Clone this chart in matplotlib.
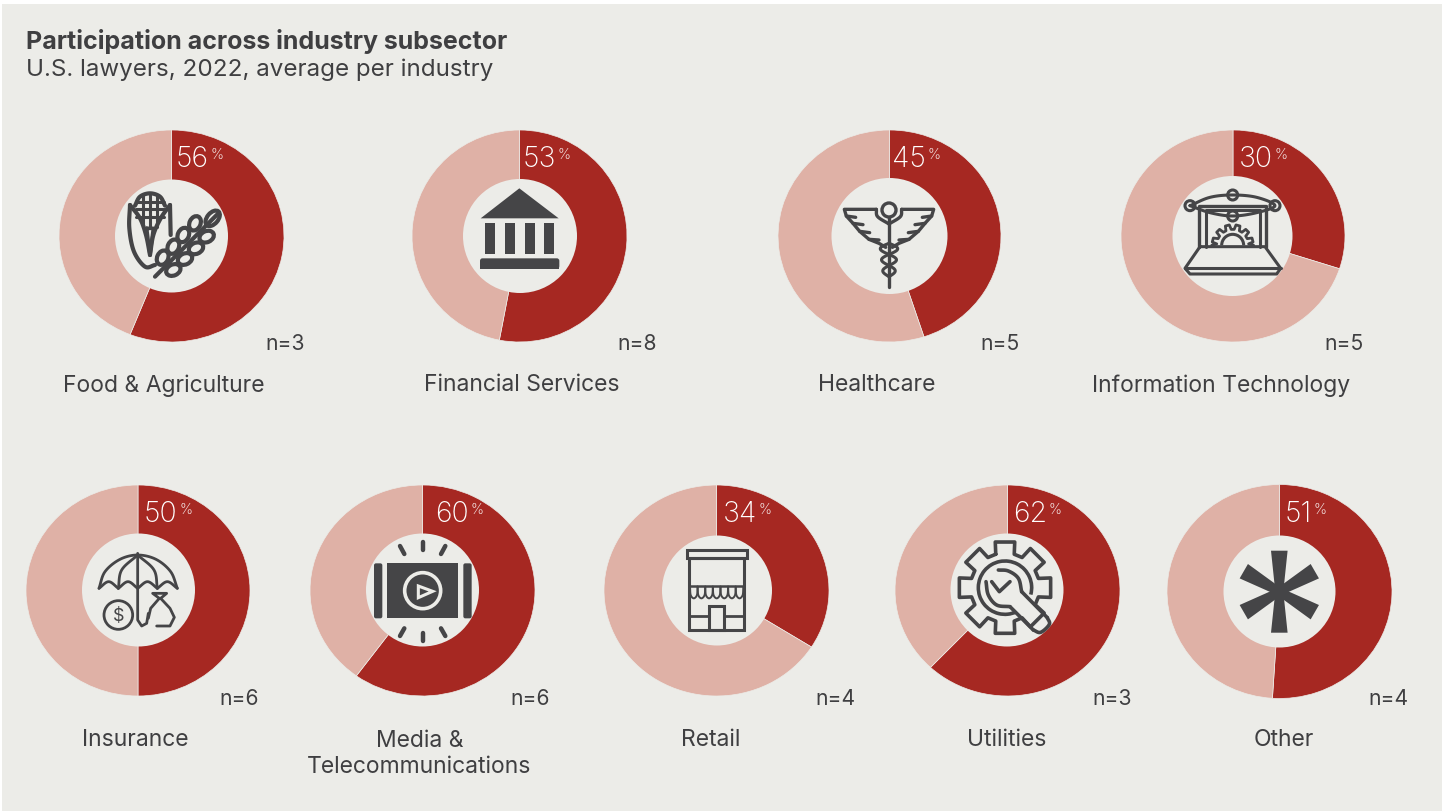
#!/usr/bin/env python3
"""
Donut charts: participation across industry subsector
"""

import numpy as np
import matplotlib
matplotlib.use('Agg')
import matplotlib.pyplot as plt
from matplotlib.patches import Circle, Ellipse, Polygon, Rectangle, FancyBboxPatch, Arc

plt.rcParams['font.family'] = ['Inter', 'DejaVu Sans']

# Data
title = 'Participation across industry subsector'
subtitle = 'U.S. lawyers, 2022, average per industry'
categories = ['Food & Agriculture', 'Financial Services', 'Healthcare', 'Information Technology',
              'Insurance', 'Media &\nTelecommunications', 'Retail', 'Utilities', 'Other']
participation = [56, 53, 45, 30, 50, 60, 34, 62, 51]
sample_sizes = [3, 8, 5, 5, 6, 6, 4, 3, 4]

# Layout in pixels of the 1448x812 picture
W, H = 1448, 812
SHIFT = 1  # everything sits one pixel lower than the raw readings
centers_x = [171.5, 519.5, 889.5, 1233, 138, 422.5, 716.5, 1007.5, 1279.5]
half_w = [112.5, 107.5, 111.5, 112, 112, 112.5, 112.5, 112.5, 112.5]
rows_y = [236, 236, 236, 236, 590.5, 590.5, 590.5, 590.5, 591.5]
half_h = [106, 106, 106, 106, 105.5, 105.5, 105.5, 105.5, 107]
holes = [(171.5, 236, 56.5), (520, 236, 57), (889.5, 236, 58), (1232.5, 236, 60),
         (138.5, 590, 56.5), (422.5, 590, 56.5), (717, 590.5, 55), (1007, 590, 56.5),
         (1279.5, 591.5, 56)]
pct_x = [176, 523, 892, 1239, 144, 435, 723, 1013, 1285]
n_x = [265.5, 617.5, 980.5, 1324.5, 219.5, 510.5, 815.5, 1092.5, 1368.5]
label_x = [164, 522, 877, 1221, 135, 419.5, 711, 1007, 1284]

PANEL = '#ECECE8'
RED = '#A62822'
PINK = '#DFB1A6'
TEXT = '#3F3F41'
ICON = '#454547'

fig = plt.figure(figsize=(W / 100, H / 100), dpi=100, facecolor='white')
bg = fig.add_axes([0, 0, 1, 1], zorder=0)
bg.set_xlim(0, W)
bg.set_ylim(H - SHIFT, -SHIFT)
bg.axis('off')
bg.add_patch(Rectangle((2, 4), 1440, 812, fc=PANEL, ec='none'))

# Donuts, slightly wider than tall as in the original
for i, pct in enumerate(participation):
    x0 = (centers_x[i] - half_w[i]) / W
    y0 = 1 - (rows_y[i] + SHIFT + half_h[i]) / H
    ax = fig.add_axes([x0, y0, 2 * half_w[i] / W, 2 * half_h[i] / H], zorder=1)
    ax.pie([pct, 100 - pct], colors=[RED, PINK], startangle=90, counterclock=False, radius=1,
           wedgeprops={'edgecolor': PANEL, 'linewidth': 0.5})
    ax.set_aspect('auto')
    ax.set_xlim(-1, 1)
    ax.set_ylim(-1, 1)

top = fig.add_axes([0, 0, 1, 1], zorder=2)
top.set_xlim(0, W)
top.set_ylim(H - SHIFT, -SHIFT)
top.axis('off')
top.patch.set_alpha(0)

for hx, hy, hr in holes:
    top.add_patch(Circle((hx, hy), hr, fc=PANEL, ec='none'))


def smooth(pts, n=10):
    """Catmull-Rom through the points"""
    p = np.array(pts, dtype=float)
    p = np.vstack([2 * p[0] - p[1], p, 2 * p[-1] - p[-2]])
    out = []
    for k in range(1, len(p) - 2):
        for t in np.linspace(0, 1, n, endpoint=False):
            out.append(0.5 * (2 * p[k] + (p[k + 1] - p[k - 1]) * t
                              + (2 * p[k - 1] - 5 * p[k] + 4 * p[k + 1] - p[k + 2]) * t ** 2
                              + (3 * p[k] - p[k - 1] - 3 * p[k + 1] + p[k + 2]) * t ** 3))
    out.append(p[-2])
    return np.array(out)


def line(pts, ox, oy, lw=2.0, curve=False, color=ICON):
    """Stroke given in 3x zoom coordinates around origin ox, oy"""
    p = np.array(pts, dtype=float) / 3 + [ox, oy]
    if curve:
        p = smooth(p)
    top.plot(p[:, 0], p[:, 1], color=color, lw=lw, solid_capstyle='round', solid_joinstyle='round')


def ring(x, y, r, ox, oy, lw=2.0, fc=PANEL, ec=ICON):
    top.add_patch(Circle((ox + x / 3, oy + y / 3), r / 3, fc=fc, ec=ec, lw=lw))


def box(x0, y0, x1, y1, ox, oy, fc=ICON, ec='none', lw=0, rad=0.0):
    if rad:
        top.add_patch(FancyBboxPatch((ox + x0 / 3 + rad, oy + y0 / 3 + rad), (x1 - x0) / 3 - 2 * rad,
                                     (y1 - y0) / 3 - 2 * rad, boxstyle=f'round,pad={rad}',
                                     fc=fc, ec=ec, lw=lw))
    else:
        top.add_patch(Rectangle((ox + x0 / 3, oy + y0 / 3), (x1 - x0) / 3, (y1 - y0) / 3, fc=fc, ec=ec, lw=lw))


def icon_food():
    ox, oy = 120, 185
    # cob
    line([(45, 62), (60, 35), (90, 25), (120, 35), (135, 62)], ox, oy, lw=3, curve=True)
    for x in (70, 90, 110):
        line([(x, 30), (x, 125)], ox, oy, lw=2.2)
    for y in (50, 72, 95):
        line([(48, y), (132, y)], ox, oy, lw=2.2)
    # husks
    line([(30, 60), (60, 100), (78, 150), (90, 210)], ox, oy, lw=3, curve=True)
    line([(150, 60), (122, 100), (100, 150), (90, 210)], ox, oy, lw=3, curve=True)
    line([(80, 130), (90, 210), (100, 130), (80, 130)], ox, oy, lw=2.6)
    line([(30, 60), (28, 130), (42, 200), (75, 245), (105, 240)], ox, oy, lw=3, curve=True)
    line([(150, 60), (152, 150)], ox, oy, lw=3)
    # wheat
    line([(105, 275), (295, 85)], ox, oy, lw=3)
    for x, y, a, w, h in [(128, 218, 65, 15, 11), (160, 185, 65, 15, 11), (190, 150, 65, 15, 11),
                          (225, 115, 65, 15, 11), (278, 100, 50, 18, 11), (260, 155, 25, 15, 11),
                          (228, 190, 25, 15, 11), (195, 222, 25, 15, 11), (160, 255, 25, 15, 11)]:
        top.add_patch(Ellipse((ox + x / 3, oy + y / 3), w, h, angle=-a, fc=PANEL, ec=ICON, lw=3))


def icon_bank():
    ox, oy = 440, 160
    top.add_patch(Polygon([(ox + 122 / 3, oy + 175 / 3), (ox + 238 / 3, oy + 85 / 3), (ox + 356 / 3, oy + 175 / 3)],
                          fc=ICON, ec='none'))
    for x in (135, 195, 255, 312):
        box(x, 188, x + 30, 282, ox, oy)
    box(120, 295, 358, 326, ox, oy, rad=2.5)
    box(120, 310, 358, 326, ox, oy)


def icon_caduceus():
    ox, oy = 440, 160
    ring(1347, 150, 21, ox, oy, lw=2.4)
    line([(1347, 172), (1347, 380)], ox, oy, lw=2.4)
    for s in (-1, 1):
        def mx(v):
            return 1347 + s * v
        line([(mx(38), 148), (mx(134), 148), (mx(128), 168), (mx(100), 172)], ox, oy, lw=2.4)
        line([(mx(128), 168), (mx(108), 190), (mx(78), 194)], ox, oy, lw=2.4)
        line([(mx(108), 190), (mx(88), 214), (mx(58), 218)], ox, oy, lw=2.4)
        line([(mx(88), 214), (mx(60), 238), (mx(30), 240)], ox, oy, lw=2.4)
        line([(mx(60), 238), (mx(30), 250), (mx(10), 262)], ox, oy, lw=2.4)
        line([(mx(38), 148), (mx(34), 170), (mx(0), 192)], ox, oy, lw=2.4, curve=True)
    yy = np.linspace(250, 350, 60)
    wave = 28 * np.sin((yy - 250) / 100 * 3 * np.pi) * (1 - (yy - 250) / 250)
    line(np.column_stack([1347 + wave, yy]), ox, oy, lw=2.2)
    line(np.column_stack([1347 - wave, yy]), ox, oy, lw=2.2)


def icon_it():
    ox, oy = 1160, 170
    # laptop
    line([(120, 230), (315, 230), (362, 295), (350, 312), (90, 312), (75, 295), (120, 230)], ox, oy, lw=2.2)
    line([(75, 295), (362, 295)], ox, oy, lw=2.2)
    line([(118, 230), (118, 108), (318, 108), (318, 230)], ox, oy, lw=2.4)
    line([(138, 230), (138, 120), (300, 120), (300, 230)], ox, oy, lw=2.2)
    # orbit with nodes
    line([(90, 107), (150, 82), (218, 75), (290, 82), (345, 107), (290, 128), (218, 138), (150, 128),
          (90, 107)], ox, oy, lw=2.2, curve=True)
    for x, y in [(90, 107), (218, 75), (345, 107), (218, 138)]:
        ring(x, y, 15, ox, oy, lw=2.2)
    # half gear
    gear = [(155, 226)]
    for deg in range(195, 360, 30):
        a = np.radians(deg)
        for off, r in [(-0.17, 48), (-0.10, 62), (0.10, 62), (0.17, 48)]:
            gear.append((218 + r * np.cos(a + off), 226 + r * np.sin(a + off)))
    gear.append((281, 226))
    line(gear, ox, oy, lw=2.0)
    top.add_patch(Arc((ox + 218 / 3, oy + 226 / 3), 66 / 3, 66 / 3, theta1=180, theta2=360, color=ICON, lw=2.2))


def icon_insurance():
    ox, oy = 80, 530
    line([(57, 175), (75, 125), (120, 88), (173, 75), (228, 88), (272, 125), (292, 175)], ox, oy, lw=2.0, curve=True)
    for a, b in [(57, 115), (115, 173), (173, 232), (232, 292)]:
        m = (a + b) / 2
        line([(a, 175), (m, 155), (b, 175)], ox, oy, lw=2.0, curve=True)
    line([(115, 175), (125, 120), (173, 75)], ox, oy, lw=2.0, curve=True)
    line([(232, 175), (222, 120), (173, 75)], ox, oy, lw=2.0, curve=True)
    line([(173, 70), (173, 270), (185, 288), (200, 280), (205, 250)], ox, oy, lw=2.0)
    ring(115, 255, 43, ox, oy, lw=2.0)
    top.text(ox + 115 / 3, oy + 256 / 3, '$', fontsize=13, color=ICON, ha='center', va='center')
    # money bag
    line([(205, 265), (212, 235), (238, 205), (218, 190), (260, 190), (242, 205), (270, 235), (283, 262),
          (270, 288), (230, 288)], ox, oy, lw=2.0)


def icon_media():
    ox, oy = 80, 530
    box(920, 100, 1135, 265, ox, oy)
    box(882, 100, 907, 265, ox, oy, rad=2)
    box(1150, 100, 1175, 265, ox, oy, rad=2)
    ring(1028, 182, 54, ox, oy, lw=2.6, fc=ICON, ec=PANEL)
    top.add_patch(Polygon([(ox + 1015 / 3, oy + 168 / 3), (ox + 1058 / 3, oy + 184 / 3), (ox + 1015 / 3, oy + 203 / 3)],
                          fc=ICON, ec=PANEL, lw=2.2))
    for a, b in [((960, 48), (973, 72)), ((1028, 35), (1028, 60)), ((1096, 48), (1083, 72)),
                 ((973, 295), (960, 318)), ((1028, 308), (1028, 332)), ((1083, 295), (1096, 318))]:
        line([a, b], ox, oy, lw=3.2)


def icon_retail():
    ox, oy = 650, 530
    box(110, 60, 290, 85, ox, oy, fc='none', ec=ICON, lw=2.2)
    box(117, 85, 283, 300, ox, oy, fc='none', ec=ICON, lw=2.2)
    line([(117, 168), (283, 168)], ox, oy, lw=1.8)
    xs = np.linspace(120, 280, 8)
    for a, b in zip(xs[:-1], xs[1:]):
        m = (a + b) / 2
        line([(a, 170), (a + 2, 195), (m, 205), (b - 2, 195), (b, 170)], ox, oy, lw=1.4, curve=True)
    box(177, 227, 223, 300, ox, oy, fc='none', ec=ICON, lw=2.2)
    line([(117, 258), (177, 258)], ox, oy, lw=2.0)
    line([(223, 258), (283, 258)], ox, oy, lw=2.0)


def icon_utilities():
    ox, oy = 950, 535
    cx, cy = 165, 158
    # gear outline, eight teeth
    pts = []
    for k in range(8):
        base = np.radians(k * 45 - 90)
        for off, r in [(-0.27, 104), (-0.21, 140), (0.21, 140), (0.27, 104)]:
            pts.append((cx + r * np.cos(base + off), cy + r * np.sin(base + off)))
    pts.append(pts[0])
    line(pts, ox, oy, lw=2.6)
    # inner ring, open towards the handle
    top.add_patch(Arc((ox + cx / 3, oy + cy / 3), 2 * 80 / 3, 2 * 80 / 3, theta1=65, theta2=15, color=ICON, lw=2.6))
    # wrench
    line([(145, 105), (175, 108), (205, 130), (215, 170)], ox, oy, lw=2.6, curve=True)
    line([(215, 170), (292, 248)], ox, oy, lw=2.6)
    line([(292, 248), (298, 268), (272, 292), (250, 285)], ox, oy, lw=2.6, curve=True)
    line([(250, 285), (180, 215)], ox, oy, lw=2.6)
    line([(180, 215), (140, 210), (115, 180), (108, 140)], ox, oy, lw=2.6, curve=True)
    line([(125, 140), (148, 170), (180, 140)], ox, oy, lw=2.6)


def icon_other():
    cx, cy = 1279.3, 591.7
    for deg in range(30, 360, 60):
        a = np.radians(deg)
        u = np.array([np.cos(a), -np.sin(a)])
        v = np.array([-u[1], u[0]])
        c = np.array([cx, cy])
        top.add_patch(Polygon([c + 4 * v, c + 41 * u + 8.3 * v, c + 41 * u - 8.3 * v, c - 4 * v],
                              fc=ICON, ec='none'))
    top.add_patch(Circle((cx, cy), 6, fc=ICON, ec='none'))


for draw in (icon_food, icon_bank, icon_caduceus, icon_it, icon_insurance, icon_media,
             icon_retail, icon_utilities, icon_other):
    draw()

# Text
top.text(26.5, 40, title, fontsize=18.0, fontweight='bold', color=TEXT, va='center', ha='left')
top.text(26.5, 69, subtitle, fontsize=17.4, color=TEXT, va='center', ha='left')

renderer = fig.canvas.get_renderer()
for i, name in enumerate(categories):
    row_y = 0 if i < 4 else 355
    num = top.text(pct_x[i], 158.5 + row_y, str(participation[i]), fontsize=20.5, color='white',
                   va='center', ha='left', fontweight='light')
    # the small % sits right behind the number, whatever its width
    num_end = num.get_window_extent(renderer).x1
    top.text(num_end + 1.5, 154 + row_y, '%', fontsize=10.5, color='white', va='center', ha='left',
             fontweight='light')
    top.text(n_x[i], 343 + row_y, f'n={sample_sizes[i]}', fontsize=15.2, color=TEXT, va='center', ha='left')
    if '\n' in name:
        top.text(label_x[i], 729, name, fontsize=16.5, color=TEXT, ha='center', va='top', linespacing=1.26)
    else:
        top.text(label_x[i], 384.5 + row_y, name, fontsize=16.5, color=TEXT, ha='center', va='center')

fig.savefig('out.png', dpi=100, facecolor='white')
plt.close(fig)
